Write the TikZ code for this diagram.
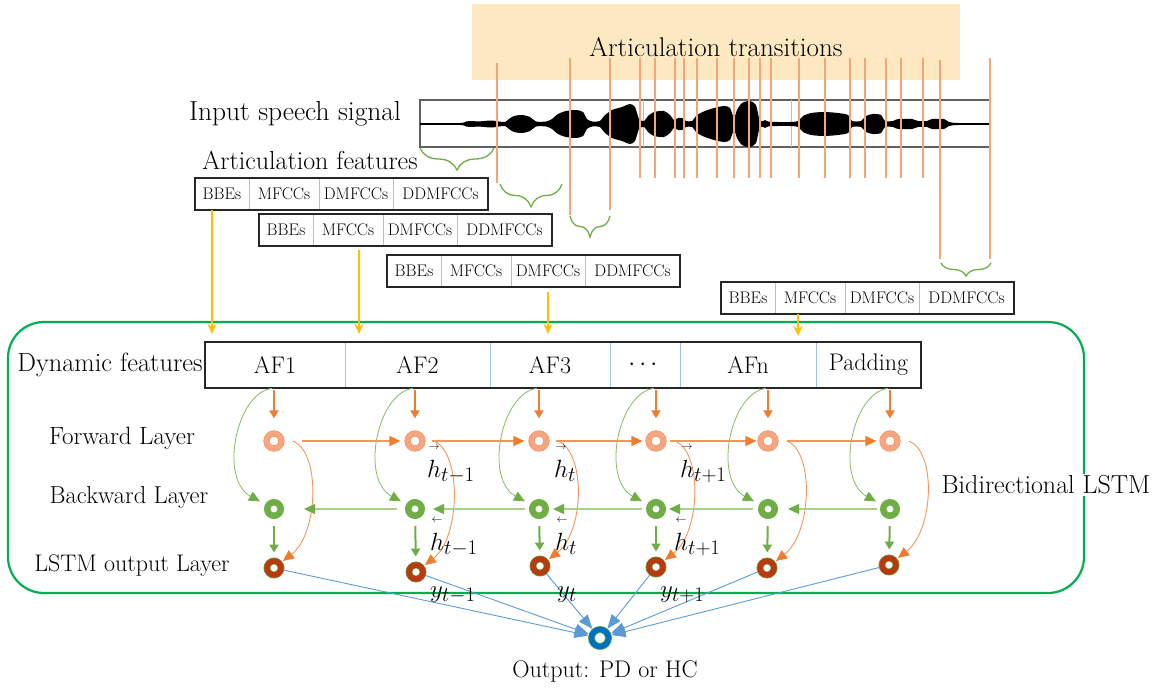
\documentclass[tikz,border=0pt]{standalone}
\usepackage{amsmath}
\usetikzlibrary{arrows.meta,decorations.pathreplacing,calc}
\definecolor{peach}{HTML}{FCE9C2}
\definecolor{trans}{HTML}{F5A57A}
\definecolor{brgreen}{HTML}{70AD47}
\definecolor{boxgreen}{HTML}{00B050}
\definecolor{amber}{HTML}{FFC000}
\definecolor{orng}{HTML}{ED7D31}
\definecolor{lorng}{HTML}{F3955C}
\definecolor{salmon}{HTML}{F4A582}
\definecolor{lgreen}{HTML}{A9D18E}
\definecolor{divblue}{HTML}{9DC3E6}
\definecolor{bluel}{HTML}{5B9BD5}
\definecolor{darkred}{HTML}{B83A12}
\definecolor{outblue}{HTML}{0070C0}
\newcommand{\fsz}[1]{\fontsize{#1}{#1}\selectfont}
\newcommand{\featbox}[3]{%
  \node[fcell, minimum width=54pt] (#1a) at (#2,#3) {BBEs};
  \node[fcell, minimum width=70pt] (#1b) at (#1a.north east) {MFCCs};
  \node[fcell, minimum width=74pt] (#1c) at (#1b.north east) {DMFCCs};
  \node[fcell, minimum width=95pt] (#1d) at (#1c.north east) {DDMFCCs};
  \draw[outline] (#1a.north west) rectangle (#1d.south east);
}
\newcommand{\fh}{{\overset{\raisebox{5pt}{\fsz{10.95}$\rightarrow$}}{h}}}
\newcommand{\bh}{{\overset{\raisebox{5pt}{\fsz{10.95}$\leftarrow$}}{h}}}
\tikzset{
  lbl/.style={inner sep=0pt, font=\fsz{#1}},
  mlab/.style={inner sep=0pt, font=\fsz{24.88}, anchor=base west},
  fcell/.style={draw=divblue, line width=0.6pt, outer sep=0pt, inner sep=0pt, minimum height=32pt, anchor=north west, font=\fsz{16.8}},
  dcell/.style={draw=divblue, line width=0.6pt, outer sep=0pt, inner sep=0pt, minimum height=46pt, anchor=north west, font=\fsz{24}},
  outline/.style={draw=black!85, line width=1.2pt},
  transline/.style={draw=trans, line width=2pt},
  brc/.style={draw=brgreen, line width=1.3pt, decorate, decoration={brace, amplitude=#1}},
  yarr/.style={draw=amber, line width=2pt, -{Stealth[length=10pt,width=9pt]}},
  fnode/.style={circle, draw=lorng, line width=0.6pt, double=salmon, double distance=5pt, fill=white, minimum size=15pt, inner sep=0pt, outer sep=3.1pt},
  bnode/.style={circle, draw=brgreen, line width=6.5pt, fill=white, minimum size=13.5pt, inner sep=0pt},
  onode/.style={circle, draw=brgreen, line width=0.7pt, double=darkred, double distance=5.5pt, fill=white, minimum size=14pt, inner sep=0pt, outer sep=3.45pt},
  pnode/.style={circle, draw=brgreen, line width=0.7pt, double=outblue, double distance=5.5pt, fill=white, minimum size=17pt, inner sep=0pt, outer sep=3.45pt},
  odown/.style={draw=orng, line width=2pt, -{Triangle[length=8pt,width=9pt]}},
  gdown/.style={draw=brgreen, line width=2pt, -{Triangle[length=8pt,width=9pt]}},
  fwdarr/.style={draw=lorng, line width=1.2pt, -{Triangle[length=11pt,width=10pt,color=orng]}},
  bwdarr/.style={draw=lgreen, line width=1.2pt, -{Triangle[length=11pt,width=10pt,color=brgreen]}},
  ocurve/.style={draw=lorng, line width=0.9pt, -{Triangle[length=11pt,width=10pt,color=orng]}},
  gcurve/.style={draw=brgreen!85, line width=0.8pt, -{Triangle[length=11pt,width=10pt,color=brgreen]}},
  bluearr/.style={draw=bluel, line width=0.9pt, -{Triangle[length=14pt,width=11pt]}},
}
\begin{document}
\begin{tikzpicture}[x=1pt,y=-1pt]
\useasboundingbox (0,0) rectangle (1158,688);
% articulation transitions band
\fill[peach] (472,4) rectangle (960,80);
\node[lbl=27] (ttl) at (716,47) {Articulation transitions};
% speech signal
\node[lbl=27.5] (iss) at (295,114) {Input speech signal};
\draw[gray!75!black, line width=1.2pt] (420,100) rectangle (990,147);
\draw[gray!50, line width=0.8pt] (643,100) -- (643,147) (791,100) -- (791,147);
\fill[black] plot[smooth,tension=.45] coordinates {(420,123) (460,123) (466,121.5) (472,121) (478,121.5) (484,121) (492,120.5) (499,121.5) (505,122) (509,119) (514,116) (522,115) (530,117) (536,121.5) (546,121.5) (552,119) (558,114) (566,111) (576,110) (583,112) (587,119) (592,121.5) (600,121) (604,116) (612,110) (622,107) (630,104) (635,107) (639,119) (644,121) (648,116) (654,112) (664,111) (670,115) (674,120) (678,118) (682,118) (686,121) (692,121) (697,115) (705,111) (714,108) (724,106) (730,108) (734,118) (737,110) (742,103) (750,101) (756,105) (759,118) (762,121.5) (765,120) (768,121.5) (778,122) (790,122) (798,121) (803,116) (811,113) (824,112) (838,113) (848,115) (852,121) (861,121) (866,116) (873,114) (881,115) (885,121) (893,121) (898,119) (912,119) (918,121) (927,121) (932,119) (944,119) (949,122) (958,123) (990,123)}
 -- plot[smooth,tension=.45] coordinates {(990,125) (958,125) (949,126) (944,129) (932,129) (927,127) (918,127) (912,129) (898,129) (893,127) (885,127) (881,133) (873,134) (866,132) (861,127) (852,127) (848,133) (838,135) (824,136) (811,135) (803,132) (798,127) (790,126) (778,126) (768,126.5) (765,128) (762,126.5) (759,130) (756,143) (750,147) (742,145) (737,138) (734,130) (730,140) (724,142) (714,140) (705,137) (697,133) (692,127) (686,127) (682,130) (678,130) (674,128) (670,133) (664,137) (654,136) (648,132) (644,127) (639,129) (635,141) (630,144) (622,141) (612,138) (604,132) (600,127) (592,126.5) (587,129) (583,136) (576,138) (566,137) (558,134) (552,129) (546,126.5) (536,126.5) (530,131) (522,133) (514,132) (509,129) (505,126) (499,126.5) (492,127.5) (484,127) (478,126.5) (472,127) (466,126.5) (460,125) (420,125)} -- cycle;
\draw[line width=1.6pt] (420,124) -- (990,124);
% transition lines
\draw[transline] (497,63) -- (497,183);
\draw[transline] (570,58) -- (570,215);
\draw[transline] (610,58) -- (610,210);
\foreach \xx in {640,655,675,684,697,717,734,749,760,771,799,825,850,865,886,901,923}
  \draw[transline] (\xx,58) -- (\xx,178);
\draw[transline] (940,60) -- (940,259);
\draw[transline] (990,58) -- (990,259);
% braces
\draw[brc=22pt] (494,148) -- (420,148);
\draw[brc=23pt] (562,184) -- (500,184);
\draw[brc=21pt] (610,216) -- (570,216);
\draw[brc=13pt] (991,263) -- (941,263);
% articulation features
\node[lbl=26] (afl) at (310,160) {Articulation features};
\featbox{ba}{195}{178}
\featbox{bb}{259}{214}
\featbox{bc}{387}{255}
\featbox{bd}{721}{282}
% big green box
\draw[boxgreen, line width=2.2pt, rounded corners=36pt] (8,322) rectangle (1084,593);
\node[lbl=26, fill=white, inner sep=2pt] (bil) at (1046,485) {Bidirectional LSTM};
% yellow arrows
\coordinate (ya1) at (212,334);
\coordinate (ya2) at (359,334);
\coordinate (ya3) at (548,334);
\coordinate (ya4) at (798,336);
\draw[yarr] (baa.south -| ya1) -- (ya1);
\draw[yarr, shorten <=4pt] (bbb.south -| ya2) -- (ya2);
\draw[yarr, shorten <=5pt] (bcc.south -| ya3) -- (ya3);
\draw[yarr] (bdb.south -| ya4) -- (ya4);
% dynamic features
\node[lbl=26.4] (dfl) at (110,365) {Dynamic features};
\node[dcell, minimum width=140pt] (d1) at (205,342) {AF1};
\node[dcell, minimum width=145pt] (d2) at (d1.north east) {AF2};
\node[dcell, minimum width=120pt] (d3) at (d2.north east) {AF3};
\node[dcell, minimum width=70pt] (d4) at (d3.north east) {$\cdots$};
\node[dcell, minimum width=136pt] (d5) at (d4.north east) {AFn};
\node[dcell, minimum width=105pt] (d6) at (d5.north east) {Padding};
\draw[outline] (d1.north west) rectangle (d6.south east);
% row labels
\node[lbl=25] (fl) at (122,438) {Forward Layer};
\node[lbl=24.5] (bl) at (129,497) {Backward Layer};
\node[lbl=24] (ol) at (132,566) {LSTM output Layer};
% nodes
\node[fnode] (f1) at (274,441) {};
\node[fnode] (f2) at (415,441) {};
\node[fnode] (f3) at (539,441) {};
\node[fnode] (f4) at (656,441) {};
\node[fnode] (f5) at (768,441) {};
\node[fnode] (f6) at (890,441) {};
\node[bnode] (b1) at (274,509) {};
\node[bnode] (b2) at (415,509) {};
\node[bnode] (b3) at (539,509) {};
\node[bnode] (b4) at (656,509) {};
\node[bnode] (b5) at (768,509) {};
\node[bnode] (b6) at (890,509) {};
\node[onode] (o1) at (274,568) {};
\node[onode] (o2) at (416,572) {};
\node[onode] (o3) at (540,566) {};
\node[onode] (o4) at (656,567) {};
\node[onode] (o5) at (767,568) {};
\node[onode] (o6) at (889,565) {};
\node[pnode] (out) at (600,638) {};
\node[lbl=24] (outl) at (605,671) {Output: PD or HC};
% input arrows
\foreach \i in {1,...,6}{
  \draw[odown, shorten <=2pt, shorten >=12pt] (f\i |- d1.south) -- (f\i);
  \draw[gcurve, shorten <=2pt, shorten >=6pt] (f\i |- d1.south) .. controls +(-38,5) and +(-55,-30) .. (b\i);
  \draw[ocurve, shorten >=1pt] ([xshift=8pt]f\i.east) .. controls +(28,10) and +(45,-35) .. (o\i);
  \draw[gdown, shorten <=7pt, shorten >=5pt] (b\i) -- (o\i);
  \draw[bluearr] (o\i) -- (out);
}
% forward and backward chains
\draw[fwdarr, shorten <=17pt, shorten >=4pt] (f1) -- (f2);
\draw[fwdarr, shorten <=6pt, shorten >=4pt] (f2) -- (f3);
\draw[fwdarr, shorten <=6pt, shorten >=3pt] (f3) -- (f4);
\draw[fwdarr, shorten <=3pt, shorten >=1pt] (f4) -- (f5);
\draw[fwdarr, shorten <=8pt, shorten >=3pt] (f5) -- (f6);
\draw[bwdarr, shorten <=8pt, shorten >=20pt] (b2) -- (b1);
\draw[bwdarr, shorten <=4pt, shorten >=8pt] (b3) -- (b2);
\draw[bwdarr, shorten <=4pt, shorten >=4pt] (b4) -- (b3);
\draw[bwdarr, shorten <=5pt, shorten >=3pt] (b5) -- (b4);
\draw[bwdarr, shorten <=3pt, shorten >=10pt] (b6) -- (b5);
% math labels
\node[mlab] (hf2) at (427,477) {$\fh_{t-1}$};
\node[mlab] (hf3) at (554,477) {$\fh_{t}$};
\node[mlab] (hf4) at (680,477) {$\fh_{t+1}$};
\node[mlab] (hb2) at (430,550) {$\bh_{t-1}$};
\node[mlab] (hb3) at (555,550) {$\bh_{t}$};
\node[mlab] (hb4) at (674,550) {$\bh_{t+1}$};
\node[mlab] (y2) at (430,597) {$y_{t-1}$};
\node[mlab] (y3) at (557,597) {$y_{t}$};
\node[mlab] (y4) at (660,597) {$y_{t+1}$};
\end{tikzpicture}
\end{document}
